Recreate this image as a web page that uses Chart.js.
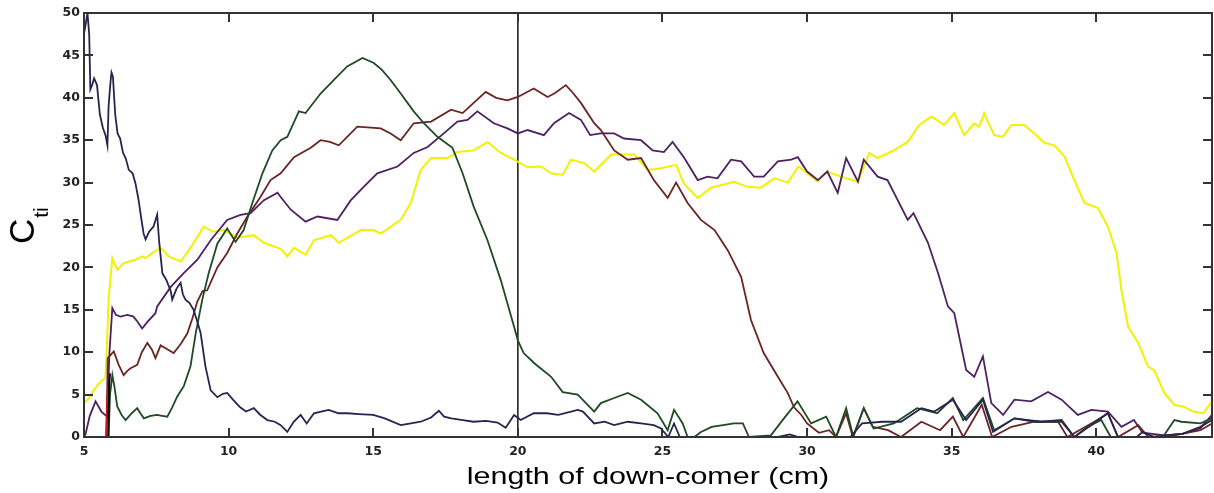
<!DOCTYPE html>
<html>
<head>
<meta charset="utf-8">
<script src="https://cdn.jsdelivr.net/npm/chart.js@4/dist/chart.umd.min.js"></script>
<style>
  html, body { margin: 0; padding: 0; background: #fff; }
  #wrap { width: 1214px; height: 493px; position: relative; }
</style>
</head>
<body>
<div id="wrap"><canvas id="chart"></canvas></div>
<script>
// === Axis setup ===
const xTicks = [5, 10, 15, 20, 25, 30, 35, 40];
const yTicks = [0, 5, 10, 15, 20, 25, 30, 35, 40, 45, 50];
const xTitle = 'length of down-comer (cm)';
const yTitleMain = 'C';
const yTitleSub = 'ti';
const markerX = 20;

// === Series: [length (cm), C_ti] ===
const navy = [[5.0,47.5],[5.05,48.5],[5.12,50],[5.18,47.5],[5.22,41],[5.28,41.5],[5.35,42.3],[5.45,41.5],[5.55,38],[5.65,36.5],[5.75,35.5],[5.81,34.4],[5.85,39],[5.92,42],[5.95,43],[6.0,42.5],[6.08,38],[6.16,35.8],[6.25,35.2],[6.35,33.5],[6.44,32.9],[6.55,31.5],[6.68,31.1],[6.78,29.9],[6.89,27.9],[6.97,26],[7.06,24.0],[7.13,23.3],[7.25,24.2],[7.4,24.8],[7.53,26.2],[7.6,23],[7.71,19.3],[7.85,18.5],[8.0,17.2],[8.05,16.2],[8.2,17.5],[8.34,18.2],[8.42,16.8],[8.51,16.2],[8.65,15.8],[8.79,15.0],[8.9,13.8],[9.03,12.3],[9.2,8.3],[9.38,5.5],[9.61,4.7],[9.8,5.1],[9.95,5.2],[10.15,4.4],[10.4,3.5],[10.6,3.0],[10.87,3.4],[11.1,2.6],[11.34,2.0],[11.6,1.8],[11.8,1.4],[12.03,0.6],[12.25,1.8],[12.49,2.6],[12.7,1.6],[12.95,2.8],[13.2,3.0],[13.46,3.2],[13.8,2.8],[14.12,2.8],[14.5,2.7],[15.0,2.6],[15.4,2.2],[15.95,1.4],[16.3,1.6],[16.64,1.8],[17.0,2.3],[17.27,3.1],[17.45,2.4],[17.7,2.2],[18.1,2.0],[18.47,1.8],[18.9,1.9],[19.3,1.7],[19.58,1.1],[19.87,2.6],[20.1,2.0],[20.55,2.8],[21.0,2.8],[21.4,2.6],[22.07,3.2],[22.25,3.0],[22.64,1.6],[23.0,1.8],[23.33,1.4],[23.8,1.8],[24.26,1.6],[24.7,1.4],[24.95,1.0],[25.2,0],[25.4,1.6],[25.6,0],[29.0,0],[29.4,0.3],[29.7,0],[31.5,0],[31.9,1.6],[32.6,1.8],[33.25,1.8],[33.95,3.4],[34.4,3.0],[35.04,4.4],[35.5,2.0],[36.08,4.4],[36.43,0.6],[37.17,2.2],[38.1,1.8],[38.8,2.0],[39.24,0],[39.83,1.4],[40.4,2.8],[40.75,0],[41.4,0],[41.6,0.6],[42.0,0],[43.0,0.4],[43.6,1.2],[44.0,2.0]];

const green = [[5.0,0],[5.85,0],[5.9,5],[5.98,7.3],[6.05,6],[6.15,3.6],[6.3,2.6],[6.44,2.0],[6.65,2.8],[6.84,3.4],[6.95,2.8],[7.07,2.2],[7.3,2.5],[7.53,2.6],[7.7,2.5],[7.88,2.4],[8.05,3.5],[8.22,4.75],[8.45,6.0],[8.68,8.3],[8.86,12.2],[9.09,16.2],[9.31,19.3],[9.61,22.8],[9.95,24.6],[10.24,23.0],[10.52,24.4],[10.82,27.6],[11.17,31.1],[11.51,33.8],[11.8,35.0],[12.03,35.4],[12.43,38.4],[12.66,38.2],[13.18,40.5],[13.64,42.1],[14.1,43.7],[14.63,44.7],[15.02,44.1],[15.3,43.3],[15.6,42.1],[15.95,40.5],[16.4,38.4],[16.75,37.0],[17.22,35.4],[17.74,34.1],[18.09,31.1],[18.47,27.2],[18.95,23.2],[19.41,18.5],[19.87,13.0],[20.0,11.4],[20.2,9.9],[20.57,8.7],[21.15,7.1],[21.55,5.3],[22.07,5.0],[22.64,3.0],[22.87,4.0],[23.33,4.6],[23.8,5.2],[24.26,4.4],[24.83,2.8],[25.18,0.8],[25.4,3.2],[25.7,1.6],[25.87,0],[26.1,0],[26.33,0.6],[26.7,1.2],[27.1,1.4],[27.47,1.6],[27.78,1.6],[27.99,0],[28.75,0.2],[29.2,2.2],[29.67,4.2],[30.14,1.6],[30.66,2.4],[31.0,0],[31.35,3.4],[31.6,0],[31.96,3.4],[32.3,1.0],[33.0,1.6],[33.8,3.4],[34.5,2.8],[35.04,4.6],[35.4,2.0],[36.08,4.6],[36.47,0.8],[37.17,2.2],[37.86,1.8],[38.8,1.8],[39.24,0],[39.7,1.2],[40.17,2.0],[40.5,0],[42.3,0],[42.7,2.0],[42.94,1.8],[43.6,1.6],[44.0,2.2]];

const brown = [[5.78,0],[5.82,9.3],[6.03,10.1],[6.2,8.5],[6.37,7.3],[6.5,7.8],[6.61,8.1],[6.84,8.5],[7.0,10.0],[7.19,11.1],[7.35,10.3],[7.47,9.3],[7.65,10.8],[7.85,10.4],[8.1,9.9],[8.35,11.0],[8.57,12.2],[8.75,14.0],[8.92,16.0],[9.1,17.2],[9.26,17.3],[9.61,20.0],[9.95,21.7],[10.3,24.0],[10.65,26.0],[11.1,28.3],[11.45,30.3],[11.8,31.1],[12.26,33.0],[12.84,34.1],[13.18,35.0],[13.5,34.8],[13.81,34.4],[14.45,36.6],[15.26,36.4],[15.6,35.8],[15.95,35.0],[16.4,37.0],[17.0,37.2],[17.69,38.6],[18.09,38.2],[18.5,39.5],[18.89,40.7],[19.25,40.0],[19.64,39.7],[20.0,40.1],[20.55,41.1],[21.03,40.1],[21.3,40.6],[21.66,41.5],[21.9,40.6],[22.18,39.4],[22.64,37.0],[22.87,36.2],[23.33,33.8],[23.8,32.7],[24.26,32.9],[24.7,30.3],[25.18,28.2],[25.47,30.0],[25.87,27.6],[26.33,25.6],[26.8,24.4],[27.26,22.0],[27.72,18.9],[28.06,13.8],[28.5,9.9],[28.99,7.1],[29.33,5.2],[29.55,3.5],[29.8,2.6],[30.0,1.6],[30.41,0.5],[30.76,0.8],[31.0,0],[31.35,2.8],[31.58,0],[31.96,3.4],[32.27,1.2],[32.8,0.8],[33.25,0],[33.95,1.8],[34.6,0.8],[35.04,2.4],[35.4,0],[36.04,3.8],[36.4,0],[37.07,1.2],[37.86,1.8],[38.68,1.8],[39.0,0],[39.93,1.8],[40.4,2.8],[40.75,0],[41.45,1.4],[41.8,0],[42.7,0.2],[43.6,0.8],[44.0,1.6]];

const purple = [[5.0,0],[5.05,0.3],[5.2,2.5],[5.4,4.2],[5.6,3.0],[5.8,2.4],[5.88,10],[5.98,15.2],[6.1,14.4],[6.26,14.2],[6.5,14.4],[6.71,14.2],[6.85,13.6],[7.01,12.8],[7.2,13.6],[7.47,14.6],[7.53,15.4],[8.0,17.7],[8.44,19.3],[8.92,20.9],[9.38,23.2],[9.95,25.6],[10.41,26.2],[10.76,26.4],[11.21,27.9],[11.69,28.8],[11.8,28.3],[12.15,26.8],[12.66,25.4],[13.07,26.0],[13.76,25.6],[14.22,27.9],[14.67,29.5],[15.14,31.1],[15.84,31.9],[16.4,33.5],[16.88,34.2],[17.44,35.8],[17.91,37.2],[18.26,37.4],[18.6,38.4],[19.17,37.0],[19.64,36.4],[20.0,35.8],[20.34,36.2],[20.9,35.6],[21.25,37.0],[21.77,38.2],[22.18,37.4],[22.5,35.6],[22.87,35.8],[23.33,35.8],[23.67,35.2],[24.26,35.0],[24.66,33.8],[25.05,33.6],[25.35,34.8],[25.74,33.0],[26.22,30.3],[26.56,30.7],[26.9,30.5],[27.37,32.7],[27.72,32.5],[28.17,30.7],[28.5,30.7],[28.99,32.5],[29.45,32.7],[29.68,33.0],[30.0,31.3],[30.37,30.3],[30.7,31.3],[31.06,28.8],[31.35,32.9],[31.76,30.1],[31.96,32.7],[32.44,30.7],[32.78,30.3],[33.48,25.6],[33.68,26.4],[34.18,22.9],[34.53,19.3],[34.87,15.4],[35.09,14.6],[35.5,7.9],[35.78,7.1],[36.08,9.5],[36.37,4.0],[36.78,2.6],[37.17,4.4],[37.75,4.2],[38.33,5.3],[38.8,4.4],[39.36,2.6],[39.83,3.2],[40.4,3.0],[40.87,1.2],[41.3,2.0],[41.6,0.5],[42.36,0.2],[43.0,0.4],[43.6,1.05],[44.0,2.6]];

const yellow = [[5.0,4.0],[5.15,4.5],[5.33,5.5],[5.57,6.5],[5.74,7.0],[5.8,11.4],[5.85,16.2],[5.98,21.1],[6.15,19.7],[6.37,20.5],[6.78,20.9],[7.01,21.3],[7.13,21.1],[7.36,21.7],[7.65,22.3],[7.93,21.3],[8.34,20.7],[8.74,22.6],[9.13,24.8],[9.48,24.2],[9.83,24.4],[10.3,23.5],[10.87,23.8],[11.21,22.9],[11.8,22.2],[12.03,21.3],[12.26,22.3],[12.66,21.5],[12.95,23.2],[13.53,23.8],[13.81,22.9],[14.57,24.4],[15.02,24.4],[15.26,24.0],[15.95,25.6],[16.3,27.6],[16.64,31.5],[17.0,32.9],[17.57,32.9],[17.91,33.6],[18.47,33.8],[18.95,34.8],[19.41,33.5],[19.87,32.7],[20.34,31.8],[20.8,31.9],[21.15,31.1],[21.55,30.9],[21.83,32.7],[22.29,32.3],[22.64,31.3],[23.23,33.3],[24.03,33.3],[24.49,31.5],[24.95,31.7],[25.47,32.1],[25.74,29.9],[26.22,28.2],[26.68,29.4],[27.47,30.1],[27.95,29.5],[28.4,29.4],[28.87,30.5],[29.33,30.0],[29.7,31.9],[30.37,30.1],[30.7,31.3],[31.17,30.7],[31.76,30.1],[32.15,33.5],[32.44,32.9],[33.0,33.8],[33.48,34.8],[33.88,36.8],[34.3,37.8],[34.74,36.8],[35.09,38.2],[35.43,35.6],[35.78,37.0],[35.95,36.6],[36.12,38.2],[36.47,35.6],[36.77,35.4],[37.06,36.8],[37.51,36.8],[37.86,35.8],[38.2,34.7],[38.55,34.4],[38.9,33.1],[39.24,30.3],[39.59,27.6],[40.06,27.0],[40.4,24.8],[40.7,21.7],[40.87,17.3],[41.1,13.0],[41.45,11.1],[41.79,8.3],[42.0,7.9],[42.35,5.2],[42.7,3.8],[43.0,3.6],[43.35,3.0],[43.7,2.8],[44.0,4.2]];

const red = [[5.76,0],[5.8,4.5],[5.83,6]];
const black = [[5.84,0],[5.87,6],[5.9,7.5]];

// === Helpers ===
const toXY = (pairs) => pairs.map(([x, y]) => ({ x, y }));

function line(data, color, width = 1.8) {
  return {
    data: toXY(data),
    borderColor: color,
    borderWidth: width,
    pointRadius: 0,
    tension: 0,
    fill: false
  };
}

// === Frame, inward ticks and axis titles ===
const framePlugin = {
  id: 'frame',
  afterDraw(chart) {
    const { ctx, chartArea: a, scales } = chart;
    const tl = 9;
    ctx.save();
    ctx.strokeStyle = '#333';
    ctx.lineWidth = 2;
    ctx.strokeRect(a.left, a.top, a.right - a.left, a.bottom - a.top);

    ctx.beginPath();
    xTicks.forEach(v => {
      const px = Math.round(scales.x.getPixelForValue(v));
      ctx.moveTo(px, a.bottom); ctx.lineTo(px, a.bottom - tl);
      ctx.moveTo(px, a.top); ctx.lineTo(px, a.top + tl);
    });
    yTicks.forEach(v => {
      const py = Math.round(scales.y.getPixelForValue(v));
      ctx.moveTo(a.left, py); ctx.lineTo(a.left + tl, py);
      ctx.moveTo(a.right, py); ctx.lineTo(a.right - tl, py);
    });
    ctx.stroke();

    // x title (source text is horizontally stretched)
    ctx.fillStyle = '#000';
    ctx.save();
    ctx.translate((a.left + a.right) / 2 + 0, 484);
    ctx.scale(1.27, 1);
    ctx.font = '24px "Liberation Sans", Arial, sans-serif';
    ctx.textAlign = 'center';
    ctx.textBaseline = 'alphabetic';
    ctx.fillText(xTitle, 0, 0);
    ctx.restore();

    // y title: C with subscript ti, rotated
    ctx.save();
    ctx.translate(34, 244);
    ctx.rotate(-Math.PI / 2);
    ctx.textAlign = 'left';
    ctx.textBaseline = 'alphabetic';
    ctx.font = '35px "Liberation Sans", Arial, sans-serif';
    ctx.fillText(yTitleMain, 0, 0);
    const w = ctx.measureText(yTitleMain).width;
    ctx.font = '21px "Liberation Sans", Arial, sans-serif';
    ctx.fillText(yTitleSub, w + 1, 14);
    ctx.restore();

    ctx.restore();
  }
};

// === Chart ===
const tickFont = { family: '"DejaVu Sans", sans-serif', weight: 'bold', size: 12.5 };

new Chart(document.getElementById('chart'), {
  type: 'line',
  data: {
    datasets: [
      line(black, '#000000'),
      line(red, '#d01020'),
      line(navy, '#27254f'),
      line(green, '#1e4a24'),
      line(brown, '#6b2424'),
      line(purple, '#4e2160'),
      line(yellow, '#f2f200', 2),
      line([[markerX, 0], [markerX, 50]], '#222', 1.6)
    ]
  },
  plugins: [framePlugin],
  options: {
    responsive: true,
    maintainAspectRatio: false,
    animation: false,
    layout: { padding: { top: 13, right: 2, left: 0, bottom: 0 } },
    plugins: {
      legend: { display: false },
      tooltip: { enabled: false }
    },
    scales: {
      x: {
        type: 'linear',
        min: 5,
        max: 44,
        afterBuildTicks: (s) => { s.ticks = xTicks.map(v => ({ value: v })); },
        afterFit: (s) => { s.height = 56; },
        ticks: { font: tickFont, color: '#222', padding: 7, maxRotation: 0, autoSkip: false },
        grid: { display: false, drawTicks: false },
        border: { display: false }
      },
      y: {
        type: 'linear',
        min: 0,
        max: 50,
        afterBuildTicks: (s) => { s.ticks = yTicks.map(v => ({ value: v })); },
        afterFit: (s) => { s.width = 84; },
        ticks: { font: tickFont, color: '#222', padding: 4, autoSkip: false },
        grid: { display: false, drawTicks: false },
        border: { display: false }
      }
    }
  }
});
</script>
</body>
</html>
